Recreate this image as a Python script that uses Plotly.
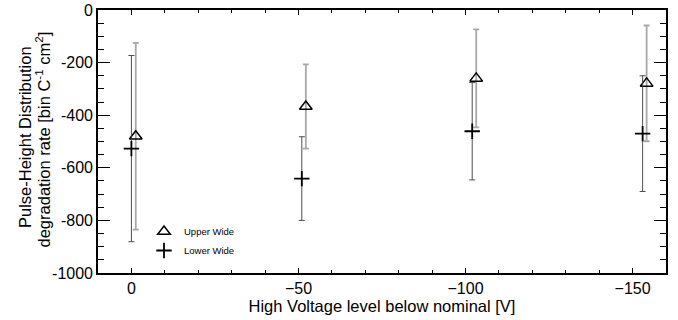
import plotly.graph_objects as go

# Data
upper_x = [-1.3, -52.2, -103.2, -154.2]
upper_y = [-480, -367, -260, -279]
upper_err = [355, 160, 186, 220]

lower_x = [0, -51, -102, -153]
lower_y = [-527, -641, -461, -470]
lower_err = [354, 159, 185, 220]

x_tickvals = [0, -50, -100, -150]
x_ticktext = ["0", "\u221250", "\u2212100", "\u2212150"]
y_tickvals = [0, -200, -400, -600, -800, -1000]
y_ticktext = ["0", "-200", "-400", "-600", "-800", "-1000"]

x_title = "High Voltage level below nominal [V]"
y_title_1 = "Pulse-Height Distribution"
y_title_2 = "degradation rate [bin C<sup>-1</sup> cm<sup>2</sup>]"

FONT = "Liberation Sans"

fig = go.Figure()

fig.add_trace(go.Scatter(
    x=upper_x, y=upper_y, mode="markers", name="Upper Wide",
    marker=dict(symbol="triangle-up-open", size=11, color="black",
                line=dict(width=1.5, color="black")),
    error_y=dict(type="data", array=upper_err, visible=True,
                 color="#a8a8a8", thickness=1.8, width=3),
))

fig.add_trace(go.Scatter(
    x=lower_x, y=lower_y, mode="markers", name="Lower Wide",
    marker=dict(symbol="cross-thin-open", size=11, color="black",
                line=dict(width=1.8, color="black")),
    error_y=dict(type="data", array=lower_err, visible=True,
                 color="#3a3a3a", thickness=0.9, width=3),
))

L, R, T, B = 98, 12, 10, 47
pw = 678 - L - R
ph = 320 - T - B

fig.update_layout(
    width=678, height=320,
    margin=dict(l=L, r=R, t=T, b=B, autoexpand=False),
    paper_bgcolor="white", plot_bgcolor="white",
    font=dict(family=FONT, color="black", size=16),
    showlegend=True,
    legend=dict(x=(144 - L) / pw, y=(320 - B - 217) / ph, xanchor="left", yanchor="top",
                bgcolor="rgba(0,0,0,0)", font=dict(size=9.5, family=FONT),
                itemwidth=30, tracegroupgap=0),
    annotations=[
        dict(text=y_title_1, xref="paper", yref="paper",
             x=(25 - L) / pw, y=(320 - B - 137) / ph, xanchor="center", yanchor="middle",
             textangle=-90, showarrow=False, font=dict(size=16.5, family=FONT)),
        dict(text=y_title_2, xref="paper", yref="paper",
             x=(43.5 - L) / pw, y=(320 - B - 140) / ph, xanchor="center", yanchor="middle",
             textangle=-90, showarrow=False, font=dict(size=16.5, family=FONT)),
    ],
)

fig.update_xaxes(
    range=[10, -160], showgrid=False, zeroline=False, automargin=False,
    showline=True, linecolor="black", linewidth=1.6, mirror="ticks",
    ticks="inside", ticklen=5, tickwidth=1.3, tickcolor="black",
    tickvals=x_tickvals, ticktext=x_ticktext,
    tickfont=dict(size=16, family=FONT),
    minor=dict(dtick=10, ticks="inside", ticklen=3, tickwidth=1, tickcolor="black", showgrid=False),
    title=dict(text=x_title, font=dict(size=16.5, family=FONT), standoff=4),
)

fig.update_yaxes(
    range=[-1000, 0], showgrid=False, zeroline=False, automargin=False,
    showline=True, linecolor="black", linewidth=1.6, mirror="ticks",
    ticks="inside", ticklen=12, tickwidth=1.3, tickcolor="black",
    tickvals=y_tickvals, ticktext=y_ticktext,
    tickfont=dict(size=16, family=FONT),
    minor=dict(dtick=50, ticks="inside", ticklen=6.5, tickwidth=1, tickcolor="black", showgrid=False),
)

fig.write_html("out.html", config={"displayModeBar": False},
               post_script="document.body.style.margin='0';")
